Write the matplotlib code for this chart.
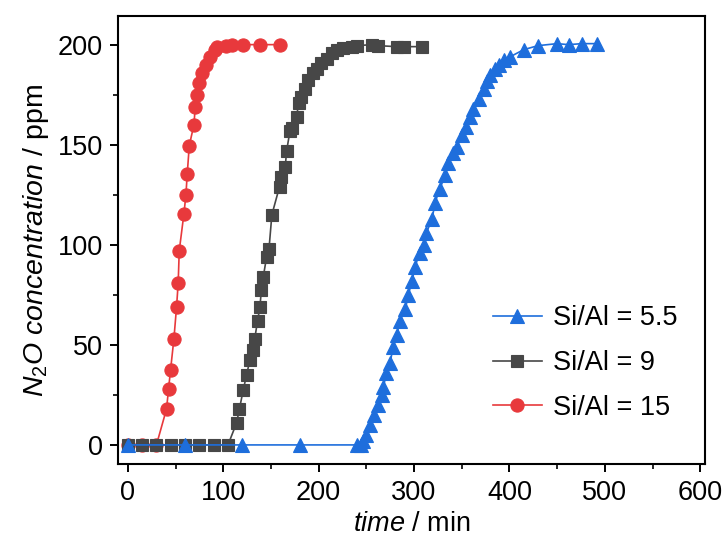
import matplotlib
matplotlib.use("Agg")
import matplotlib.pyplot as plt
from matplotlib.ticker import MultipleLocator

plt.rcParams['font.family'] = ['Liberation Sans', 'DejaVu Sans']
plt.rcParams['mathtext.fontset'] = 'custom'
plt.rcParams['mathtext.it'] = 'Liberation Sans:italic'
plt.rcParams['mathtext.rm'] = 'Liberation Sans'

# Si/Al = 15 (red circles)
t_15 = [0, 15, 30, 40.6, 42.7, 44.8, 48.3, 51.1, 52.8, 53.9, 58.8, 60.9, 62.3, 64.4,
        69.3, 70.7, 72.8, 74.2, 77.3, 81.9, 86.1, 91.3, 93, 102.8, 108.8, 121, 139, 160]
c_15 = [0, 0, 0, 18, 28, 37.5, 53, 69, 81, 97, 115.5, 125, 135.5, 149.5,
        160, 169, 175, 181, 186, 190, 194, 197.5, 199, 199.5, 200, 200, 200, 200]

# Si/Al = 9 (grey squares)
t_9 = [0, 15, 30, 45, 60, 75, 90, 105, 114, 117, 121, 124.5, 128, 131.5, 133, 136,
       138.5, 140, 142, 145.5, 148, 151, 159, 161, 165, 166.5, 170, 172, 177, 179,
       182, 186, 189, 194, 198, 203, 208.5, 214, 219, 226, 235, 240, 256, 262,
       282, 290, 308]
c_9 = [0, 0, 0, 0, 0, 0, 0, 0, 11, 18, 27.5, 35, 42.5, 47.5, 53, 62,
       69, 77.5, 84, 94, 98, 115, 129, 134, 139, 147, 157, 158.5, 164, 171,
       174, 178, 182.5, 186, 188, 191, 193, 196, 197.5, 198.5, 199, 199.5, 200, 199.5,
       199, 199, 199]

# Si/Al = 5.5 (blue triangles)
t_55 = [0, 60, 120, 180, 240, 244, 247, 250, 254, 258, 262, 266, 268, 271, 275, 278,
        282, 285, 291, 294, 298, 301, 306, 310, 313, 319, 322, 327, 333, 336, 341,
        345, 350, 354, 359, 362, 368, 373, 376, 380, 385, 389, 394, 401, 415, 430,
        450, 462, 476, 492]
c_55 = [0, 0, 0, 0, 0, 0, 2, 5, 10, 15, 20, 25, 29, 36, 41, 49,
        55, 62, 68, 75, 82, 89, 96, 100, 106, 113, 121, 128, 135, 141, 146,
        149, 155, 159, 164, 168, 173, 178, 182, 185, 188, 190, 192.5, 194, 197.5, 199.5,
        200.5, 200, 200.5, 200.5]

labels = ['Si/Al = 5.5', 'Si/Al = 9', 'Si/Al = 15']
colors = ['#1e6edc', '#474747', '#e8393c']

fig = plt.figure(figsize=(7.27, 5.45), dpi=100)
ax = fig.add_axes([0.1627, 0.148, 0.9697 - 0.1627, 0.9706 - 0.148])

h15, = ax.plot(t_15, c_15, '-o', color=colors[2], ms=9.5, lw=1.2, mew=0.8, label=labels[2])
h9, = ax.plot(t_9, c_9, '-s', color=colors[1], ms=8.3, lw=1.2, mew=0.8, label=labels[1])
h55, = ax.plot(t_55, c_55, '-^', color=colors[0], ms=10, lw=1.2, mew=0.8, label=labels[0])

ax.set_xlim(-10, 605)
ax.set_ylim(-9.7, 214.3)
ax.xaxis.set_major_locator(MultipleLocator(100))
ax.xaxis.set_minor_locator(MultipleLocator(50))
ax.yaxis.set_major_locator(MultipleLocator(50))
ax.yaxis.set_minor_locator(MultipleLocator(25))
ax.tick_params(which='major', direction='out', length=6, width=1.4, labelsize=19.5, pad=5)
ax.tick_params(which='minor', direction='out', length=3.5, width=1.2)
for s in ax.spines.values():
    s.set_linewidth(1.5)

ax.set_xlabel(r'$time$ / min', fontsize=19.5, labelpad=4)
ax.set_ylabel(r'$N_{\mathrm{2}}O\ concentration$ / ppm', fontsize=20.5, labelpad=5)

leg = ax.legend(handles=[h55, h9, h15], loc='center left',
                bbox_to_anchor=(0.6387, 0.226), frameon=False, fontsize=19.5,
                handlelength=1.8, handletextpad=0.4, labelspacing=0.7,
                borderpad=0, borderaxespad=0, numpoints=1)

fig.savefig('out.png', dpi=100)
